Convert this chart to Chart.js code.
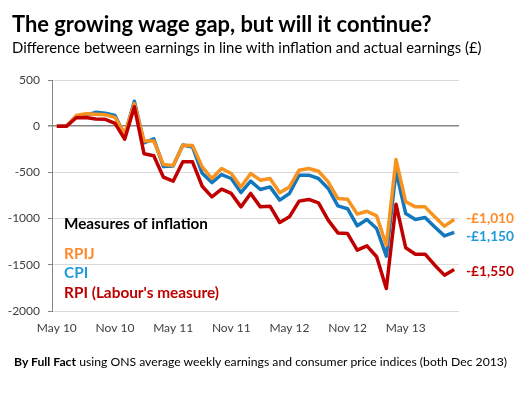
<!DOCTYPE html>
<html><head><meta charset="utf-8">
<script src="https://cdn.jsdelivr.net/npm/chart.js@4/dist/chart.umd.min.js"></script>
<style>
html,body{margin:0;padding:0;background:#fff;}
#wrap{position:relative;width:529px;height:396px;overflow:hidden;background:#fff;}
#c{position:absolute;left:0;top:0;}
.t{position:absolute;white-space:nowrap;line-height:1;font-family:Lato,sans-serif;color:#000;}
</style></head><body>
<div id="wrap">
<canvas id="c" width="529" height="396"></canvas>
<div class="t" id="title" style="left:12px;top:12px;font-weight:bold;font-size:22px;">The growing wage gap, but will it continue?</div>
<div class="t" id="sub" style="left:12px;top:40px;font-size:15px;">Difference between earnings in line with inflation and actual earnings (£)</div>
<div class="t" id="foot" style="left:14px;top:357px;font-size:12.5px;"><b>By Full Fact</b> using ONS average weekly earnings and consumer price indices (both Dec 2013)</div>
</div>
<script>
// ---- data ----
const months = [
  "May 10","Jun 10","Jul 10","Aug 10","Sep 10","Oct 10","Nov 10","Dec 10",
  "Jan 11","Feb 11","Mar 11","Apr 11","May 11","Jun 11","Jul 11","Aug 11","Sep 11","Oct 11","Nov 11","Dec 11",
  "Jan 12","Feb 12","Mar 12","Apr 12","May 12","Jun 12","Jul 12","Aug 12","Sep 12","Oct 12","Nov 12","Dec 12",
  "Jan 13","Feb 13","Mar 13","Apr 13","May 13","Jun 13","Jul 13","Aug 13","Sep 13","Oct 13"
];
const shownMonthLabels = ["May 10","Nov 10","May 11","Nov 11","May 12","Nov 12","May 13"];
const yTicks = [500, 0, -500, -1000, -1500, -2000];

const rpij = [0,0,115,135,130,125,95,-80,245,-160,-160,-415,-425,-205,-210,-440,-566,-458,-512,-657,-512,-584,-566,-721,-657,-476,-458,-487,-602,-783,-790,-952,-920,-970,-1288,-361,-818,-873,-873,-981,-1082,-1010];
const cpi  = [0,0,105,120,150,140,115,-100,270,-180,-137,-437,-430,-203,-225,-510,-610,-523,-566,-718,-595,-685,-657,-800,-728,-530,-530,-566,-674,-862,-893,-1078,-1010,-1107,-1407,-487,-945,-1010,-988,-1090,-1187,-1150];
const rpi  = [0,0,92,95,78,74,30,-140,210,-298,-320,-552,-595,-385,-385,-650,-765,-682,-728,-873,-728,-873,-866,-1042,-981,-811,-793,-830,-1017,-1155,-1162,-1342,-1295,-1413,-1756,-844,-1316,-1385,-1385,-1504,-1612,-1550];

const legendTitle = "Measures of inflation";
const seriesNames = ["RPIJ", "CPI", "RPI (Labour's measure)"];
const endLabels = ["-£1,010", "-£1,150", "-£1,550"];

// ---- styles ----
const LINE_COLORS = ["#F7931E", "#1277BD", "#C00000"];
const TEXT_COLORS = ["#FF8A2B", "#1F9AD9", "#C00000"];
const FONT = "Lato, sans-serif";

function fitHtml(id, target, baseline){
  const el = document.getElementById(id);
  let fs = parseFloat(el.style.fontSize);
  const w = el.getBoundingClientRect().width;
  fs = fs * target / w;
  el.style.fontSize = fs + "px";
  el.style.top = (baseline - 0.887 * fs) + "px";
}

function fitSize(ctx, text, weight, target){
  ctx.font = weight + " 100px " + FONT;
  return 100 * target / ctx.measureText(text).width;
}

const annot = {
  id: "annot",
  afterDatasetsDraw(chart){
    const ctx = chart.ctx, ca = chart.chartArea, ys = chart.scales.y;
    ctx.save();
    ctx.textAlign = "left";
    ctx.textBaseline = "alphabetic";
    const lx = ca.left + 12;
    const hs = fitSize(ctx, legendTitle, "bold", 144);
    ctx.font = "bold " + hs + "px " + FONT;
    ctx.fillStyle = "#000";
    ctx.fillText(legendTitle, lx, 229);
    const ls = fitSize(ctx, seriesNames[2], "bold", 155);
    ctx.font = "bold " + ls + "px " + FONT;
    const lb = [259.3, 278.3, 297.5];
    seriesNames.forEach((n, i) => { ctx.fillStyle = TEXT_COLORS[i]; ctx.fillText(n, lx, lb[i]); });
    const es = fitSize(ctx, endLabels[0], "bold", 48);
    ctx.font = "bold " + es + "px " + FONT;
    const lastVals = [rpij[rpij.length-1], cpi[cpi.length-1], rpi[rpi.length-1]];
    const off = [3, 9, 6.5];
    endLabels.forEach((t, i) => {
      ctx.fillStyle = TEXT_COLORS[i];
      ctx.fillText(t, ca.right + 7, ys.getPixelForValue(lastVals[i]) + off[i]);
    });
    ctx.restore();
  }
};

Promise.all([
  document.fonts.load("bold 20px Lato"),
  document.fonts.load("20px Lato")
]).catch(()=>{}).then(() => {
  fitHtml("title", 420, 32);
  fitHtml("sub", 470, 52.7);
  fitHtml("foot", 494, 367.3);

  new Chart(document.getElementById("c"), {
    type: "line",
    data: {
      labels: months,
      datasets: [
        { label: seriesNames[2], data: rpi,  borderColor: LINE_COLORS[2] },
        { label: seriesNames[0], data: rpij, borderColor: LINE_COLORS[0] },
        { label: seriesNames[1], data: cpi,  borderColor: LINE_COLORS[1] }
      ]
    },
    options: {
      responsive: false,
      animation: false,
      devicePixelRatio: 1,
      layout: { padding: { left: 0, top: 80, right: 70, bottom: 60 } },
      elements: {
        line: { borderWidth: 3.5, tension: 0, borderJoinStyle: "round", fill: false },
        point: { radius: 0, hoverRadius: 0 }
      },
      plugins: { legend: { display: false }, tooltip: { enabled: false }, title: { display: false } },
      scales: {
        x: {
          type: "category",
          offset: true,
          grid: { display: false, drawTicks: false },
          border: { display: false },
          ticks: {
            autoSkip: false, maxRotation: 0, minRotation: 0, padding: 10,
            color: "#404040", font: { family: FONT, size: 12 },
            callback: function(v){ const l = this.getLabelForValue(v); return shownMonthLabels.includes(l) ? l : ""; }
          },
          afterFit(s){ s.height = 25; }
        },
        y: {
          min: yTicks[yTicks.length-1], max: yTicks[0],
          ticks: { stepSize: 500, padding: 8, color: "#404040", font: { family: FONT, size: 12 },
                   callback: v => yTicks.includes(v) ? String(v) : "" },
          grid: {
            color: c => (c.tick && c.tick.value === 0) ? "#868686" : "#D9D9D9",
            lineWidth: c => (c.tick && c.tick.value === 0) ? 1.5 : 1,
            tickColor: "#868686", tickLength: 4, drawTicks: true
          },
          border: { display: true, color: "#868686", width: 1 },
          afterFit(s){ s.width = 52; }
        }
      }
    },
    plugins: [annot]
  });
});
</script>
</body></html>
